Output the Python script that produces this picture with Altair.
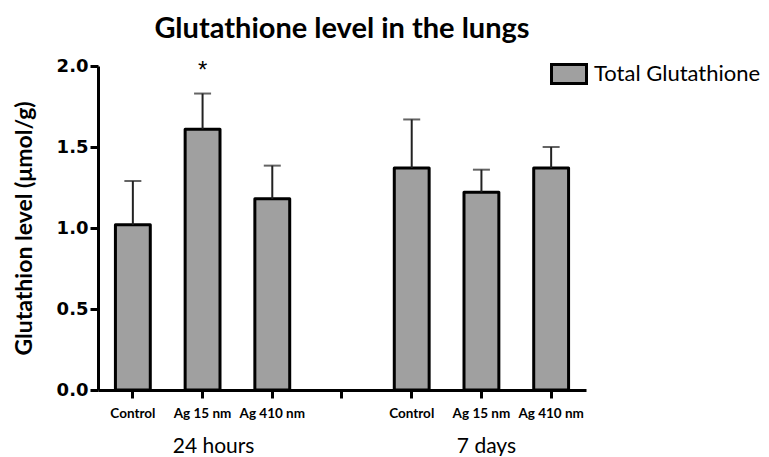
import altair as alt
import pandas as pd

groups = ["24 hours", "24 hours", "24 hours", "7 days", "7 days", "7 days"]
treatments = ["Control", "Ag 15 nm", "Ag 410 nm", "Control", "Ag 15 nm", "Ag 410 nm"]
means = [1.02, 1.61, 1.18, 1.37, 1.22, 1.37]
upper = [1.29, 1.83, 1.385, 1.67, 1.36, 1.50]
series_name = "Total Glutathione"
star_labels = ["", "*", "", "", "", ""]
group_labels = ["24 hours", "7 days"]
group_anchor = ["24 hours|Ag 15 nm", "7 days|Ag 15 nm"]

keys = [g + "|" + t for g, t in zip(groups, treatments)]
domain = keys[:3] + ["gap"] + keys[3:]

df = pd.DataFrame({
    "key": keys,
    "mean": means,
    "upper": upper,
    "series": [series_name] * 6,
    "star": star_labels,
})
gdf = pd.DataFrame({"key": group_anchor, "label": group_labels})

xscale = alt.Scale(domain=domain, paddingInner=0.5, paddingOuter=0.25)
xaxis = alt.Axis(
    title=None,
    labelExpr="indexof(datum.value, '|') > 0 ? split(datum.value, '|')[1] : ''",
    labelAngle=0,
    labelFont="Lato",
    labelFontWeight="bold",
    labelFontSize=13.5,
    labelColor="black",
    labelPadding=8,
    tickSize=8,
    tickWidth=3,
    tickColor="black",
    domainWidth=3,
    domainColor="black",
    grid=False,
)
yscale = alt.Scale(domain=[0, 2])
yaxis = alt.Axis(
    title="Glutathion level (μmol/g)",
    titleFont="Lato",
    titleFontWeight="bold",
    titleFontSize=23,
    titleColor="black",
    titlePadding=20,
    values=[0, 0.5, 1.0, 1.5, 2.0],
    format=".1f",
    labelFont="DejaVu Sans",
    labelFontWeight="bold",
    labelFontSize=18,
    labelColor="black",
    labelPadding=2,
    tickSize=8,
    tickWidth=3,
    tickColor="black",
    domainWidth=3,
    domainColor="black",
    grid=False,
)

base = alt.Chart(df)

bars = base.mark_bar(stroke="black", strokeWidth=3, strokeJoin="round").encode(
    x=alt.X("key:N", scale=xscale, axis=xaxis, sort=domain),
    y=alt.Y("mean:Q", scale=yscale, axis=yaxis),
    color=alt.Color(
        "series:N",
        scale=alt.Scale(range=["#a0a0a0"]),
        legend=alt.Legend(
            title=None,
            orient="none",
            legendX=452,
            legendY=-11,
            padding=0,
            symbolType="M-1,-0.543H1V0.543H-1Z",
            symbolSize=1225,
            symbolStrokeColor="black",
            symbolStrokeWidth=3,
            symbolFillColor="#a0a0a0",
            symbolOpacity=1,
            labelFont="Lato",
            labelFontSize=22,
            labelColor="black",
            labelOffset=6,
            labelLimit=400,
        ),
    ),
)

err = base.mark_rule(color="#222222", strokeWidth=2).encode(
    x=alt.X("key:N", scale=xscale, sort=domain),
    y="mean:Q",
    y2="upper:Q",
)
caps = base.mark_tick(color="#222222", thickness=2, size=17, orient="horizontal").encode(
    x=alt.X("key:N", scale=xscale, sort=domain),
    y="upper:Q",
)
stars = base.mark_text(font="Liberation Sans", fontSize=24, color="black", baseline="middle", dy=5).encode(
    x=alt.X("key:N", scale=xscale, sort=domain),
    y=alt.datum(2.0),
    text="star:N",
)
glabel_24 = alt.Chart(gdf).transform_filter(alt.datum.label == group_labels[0]).mark_text(
    font="Lato", fontSize=21, color="black", baseline="alphabetic", dx=11
).encode(
    x=alt.X("key:N", scale=xscale, sort=domain),
    y=alt.value(387),
    text="label:N",
)
glabel_7 = alt.Chart(gdf).transform_filter(alt.datum.label == group_labels[1]).mark_text(
    font="Lato", fontSize=21, color="black", baseline="alphabetic", dx=5
).encode(
    x=alt.X("key:N", scale=xscale, sort=domain),
    y=alt.value(387),
    text="label:N",
)

chart = alt.layer(bars, err, caps, stars, glabel_24, glabel_7).properties(
    width=488,
    height=324,
    title=alt.TitleParams(
        "Glutathione level in the lungs",
        font="Lato",
        fontWeight="bold",
        fontSize=29,
        color="black",
        anchor="middle",
        offset=11,
    ),
    autosize=alt.AutoSizeParams(type="none"),
    padding={"left": 90, "top": 58, "right": 175, "bottom": 66},
).configure_view(stroke=None)

chart.save("out.html", embed_options={"renderer": "svg", "actions": False})
